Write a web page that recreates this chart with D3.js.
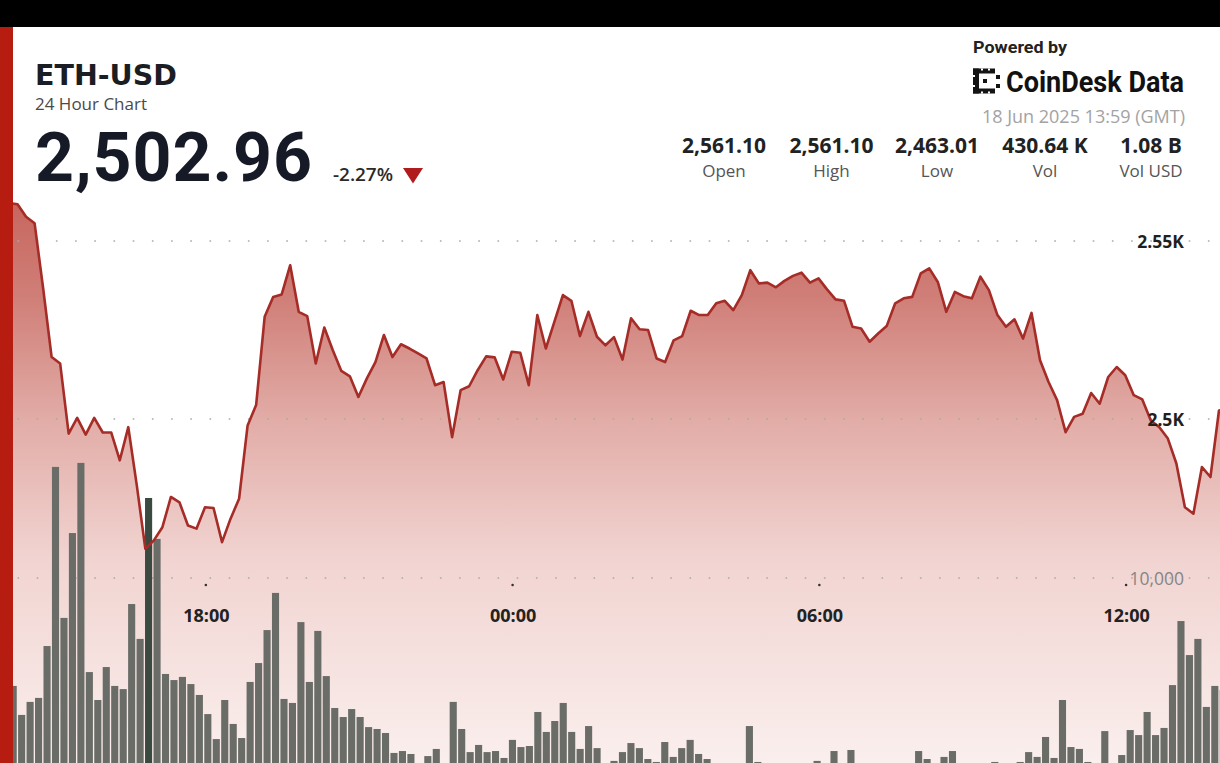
<!DOCTYPE html>
<html><head><meta charset="utf-8">
<script src="https://cdn.jsdelivr.net/npm/d3@7"></script>
<style>
html,body{margin:0;padding:0;background:#fff;}
svg{display:block;}
</style></head>
<body><svg id="c" width="1220" height="763"></svg>
<script>
// ---------- data ----------
const symbol = "ETH-USD";
const subtitle = "24 Hour Chart";
const lastPrice = "2,502.96";
const changePct = "-2.27%";
const poweredBy = "Powered by";
const brand = "CoinDesk Data";
const stamp = "18 Jun 2025 13:59 (GMT)";
const statValues = ["2,561.10", "2,561.10", "2,463.01", "430.64 K", "1.08 B"];
const statLabels = ["Open", "High", "Low", "Vol", "Vol USD"];
const priceTicks = [2550, 2500];
const priceTickLabels = ["2.55K", "2.5K"];
const volTicks = [10000];
const volTickLabels = ["10,000"];
const timeTicks = ["2025-06-17T18:00:00Z", "2025-06-18T00:00:00Z", "2025-06-18T06:00:00Z", "2025-06-18T12:00:00Z"];
const timeTickLabels = ["18:00", "00:00", "06:00", "12:00"];
const startTime = "2025-06-17T13:59:00Z";
const endTime = "2025-06-18T13:59:00Z";
const stepMinutes = 10;

const prices = [
 2561.1, 2560.7, 2560.3, 2556.8, 2555.0, 2536.8, 2517.4, 2515.6, 2495.9, 2500.3,
 2495.6, 2500.3, 2496.2, 2496.2, 2488.4, 2497.7, 2481.3, 2463.5, 2465.9, 2469.6,
 2478.1, 2476.6, 2470.1, 2469.2, 2475.2, 2475.0, 2465.4, 2472.0, 2477.6, 2498.2,
 2503.9, 2528.7, 2534.3, 2535.0, 2543.2, 2530.1, 2528.9, 2515.6, 2525.7, 2519.3,
 2513.5, 2512.0, 2506.2, 2511.4, 2516.0, 2523.6, 2517.4, 2521.0, 2519.8, 2518.4,
 2517.0, 2509.5, 2510.4, 2494.9, 2508.1, 2509.2, 2513.7, 2517.6, 2517.3, 2511.1,
 2518.9, 2518.6, 2509.5, 2529.2, 2519.8, 2527.3, 2534.8, 2533.2, 2523.3, 2530.1,
 2523.1, 2520.7, 2523.0, 2516.7, 2528.3, 2525.2, 2525.0, 2517.0, 2516.0, 2522.1,
 2523.3, 2530.4, 2529.2, 2529.2, 2532.5, 2533.2, 2530.6, 2534.8, 2541.8, 2538.1,
 2538.3, 2537.0, 2538.8, 2540.2, 2541.1, 2538.3, 2539.5, 2536.4, 2533.6, 2533.2,
 2525.9, 2525.4, 2521.7, 2524.0, 2526.1, 2532.5, 2533.9, 2534.3, 2540.9, 2542.3,
 2538.5, 2530.1, 2535.7, 2534.5, 2533.9, 2540.0, 2536.2, 2529.2, 2525.9, 2528.0,
 2522.6, 2529.8, 2516.5, 2510.4, 2505.3, 2496.3, 2500.6, 2501.5, 2507.3, 2504.3,
 2511.8, 2514.6, 2512.3, 2506.7, 2505.5, 2499.6, 2497.7, 2494.5, 2487.5, 2475.2,
 2473.4, 2486.5, 2483.7, 2502.4, 2502.96
];

const volumes = [
 4670, 4860, 3480, 4100, 4290, 6760, 15290, 8100, 12140, 15480,
 5520, 4190, 5760, 4860, 4710, 8760, 7100, 13810, 11860, 5430,
 5140, 5290, 4950, 4430, 3520, 2330, 4190, 3050, 2380, 5050,
 5950, 7520, 9290, 4240, 4050, 7900, 5050, 7480, 5330, 3810,
 3380, 3760, 3380, 2900, 2810, 2620, 1670, 1760, 1620, 1050,
 1520, 1860, 1000, 4100, 2810, 1710, 2050, 1710, 1760, 1430,
 2290, 1950, 2000, 3620, 2670, 3190, 4050, 2670, 1860, 2950,
 1900, 950, 1290, 1710, 2140, 1900, 1380, 1240, 2190, 1480,
 1900, 2290, 1620, 1380, 1050, 860, 950, 1000, 2950, 1240,
 950, 810, 860, 760, 900, 1000, 1290, 950, 1760, 1000,
 1810, 860, 760, 900, 810, 950, 860, 1000, 1760, 1380,
 1050, 1480, 1760, 950, 860, 1000, 900, 1240, 950, 1050,
 1240, 1710, 1480, 2430, 1430, 4190, 1950, 1860, 1240, 1050,
 2710, 1100, 1570, 2760, 2520, 3620, 2520, 2860, 4900, 7950,
 6330, 7100, 3860, 4860, 4670
];
const highlightBar = 17;

// ---------- setup ----------
const W = 1220, H = 763;
const svg = d3.select("#c");
const t0 = new Date(startTime);
const times = prices.map((_, j) => new Date(t0.getTime() + j * stepMinutes * 60000));

const x = d3.scaleTime().domain([new Date(startTime), new Date(endTime)]).range([0.5, 1227.5]);
const xb = d3.scaleBand().domain(times.map(d => +d)).range([0.5, 1227.5]).paddingInner(0.16).paddingOuter(0.08);
const y = d3.scaleLinear().domain([2500, 2550]).range([419, 241]);
const yv = d3.scaleLinear().domain([0, 10000]).range([788, 578]);

const defs = svg.append("defs");
const grad = defs.append("linearGradient").attr("id", "ag")
  .attr("gradientUnits", "userSpaceOnUse").attr("x1", 0).attr("x2", 0).attr("y1", 200).attr("y2", 763);
[[0, "rgb(198,102,94)"], [0.18, "rgb(208,128,121)"], [0.39, "rgb(226,172,167)"], [0.64, "rgb(241,212,209)"], [1, "rgb(250,239,237)"]]
  .forEach(([o, c]) => grad.append("stop").attr("offset", o).attr("stop-color", c));
defs.append("clipPath").attr("id", "pc").append("rect").attr("x", 0).attr("y", 27).attr("width", W).attr("height", H - 27);

svg.append("rect").attr("width", W).attr("height", H).attr("fill", "#fff");

const plot = svg.append("g").attr("clip-path", "url(#pc)");

// area
const area = d3.area().x((d, j) => x(times[j])).y0(H + 5).y1(d => y(d));
plot.append("path").datum(prices).attr("d", area).attr("fill", "url(#ag)");

// grid
const gridYs = priceTicks.map(v => y(v)).concat(volTicks.map(v => yv(v)));
plot.selectAll("line.grid").data(gridYs).join("line").attr("class", "grid")
  .attr("x1", 17.5).attr("x2", W).attr("y1", d => d).attr("y2", d => d)
  .attr("stroke", "#a9a9a9").attr("stroke-width", 1.6).attr("stroke-dasharray", "1.6 17.6");

// bars
plot.selectAll("rect.bar").data(volumes).join("rect").attr("class", "bar")
  .attr("x", (d, i) => xb(+times[i]))
  .attr("width", xb.bandwidth())
  .attr("y", d => yv(d))
  .attr("height", d => yv(0) - yv(d))
  .attr("fill", (d, i) => i === highlightBar ? "#3a4a41" : "#6a6c67");

// line
const line = d3.line().x((d, j) => x(times[j])).y(d => y(d));
plot.append("path").datum(prices).attr("d", line).attr("fill", "none")
  .attr("stroke", "#a52c27").attr("stroke-width", 2.6).attr("stroke-linejoin", "round");

// time axis
const tdates = timeTicks.map(d => new Date(d));
const ax = svg.append("g").attr("transform", "translate(0,622)")
  .call(d3.axisBottom(x).tickValues(tdates).tickFormat((d, i) => timeTickLabels[i]).tickSize(0).tickPadding(0));
ax.select(".domain").remove();
ax.selectAll("text").attr("y", 0).attr("dy", 0)
  .attr("font-family", "'Open Sans', sans-serif").attr("font-weight", 700).attr("font-size", 18).attr("fill", "#222");
svg.selectAll("circle.tk").data(tdates).join("circle").attr("class", "tk")
  .attr("cx", d => x(d)).attr("cy", 585).attr("r", 1.3).attr("fill", "#333");

// y labels
svg.selectAll("text.pl").data(priceTicks).join("text").attr("class", "pl")
  .attr("x", 1184).attr("y", d => y(d) + 6.5).attr("text-anchor", "end")
  .attr("font-family", "'Open Sans', sans-serif").attr("font-weight", 700).attr("font-size", 17.5)
  .attr("fill", "#1f1f1f").text((d, i) => priceTickLabels[i]);
svg.selectAll("text.vl").data(volTicks).join("text").attr("class", "vl")
  .attr("x", 1184).attr("y", d => yv(d) + 6.5).attr("text-anchor", "end")
  .attr("font-family", "'Open Sans', sans-serif").attr("font-weight", 400).attr("font-size", 17.5)
  .attr("fill", "#858585").text((d, i) => volTickLabels[i]);

// frame pieces
svg.append("rect").attr("x", 0).attr("y", 0).attr("width", W).attr("height", 27).attr("fill", "#000");
svg.append("rect").attr("x", 0).attr("y", 27).attr("width", 13).attr("height", H - 27).attr("fill", "#b71c10");

// header left
svg.append("text").attr("x", 35).attr("y", 85).attr("font-family", "'DejaVu Sans', sans-serif")
  .attr("font-weight", 700).attr("font-size", 28.5).attr("fill", "#1b1d24").text(symbol);
svg.append("text").attr("x", 35).attr("y", 110).attr("font-family", "'Open Sans', sans-serif")
  .attr("font-size", 17).attr("fill", "#4a4a4a").text(subtitle);
svg.append("text").attr("x", 35).attr("y", 180.5).attr("font-family", "Roboto, sans-serif")
  .attr("font-weight", 700).attr("font-size", 68).attr("textLength", 277).attr("lengthAdjust", "spacing")
  .attr("fill", "#161a26").text(lastPrice);
svg.append("text").attr("x", 333).attr("y", 181).attr("font-family", "'Open Sans', sans-serif")
  .attr("font-weight", 600).attr("font-size", 18).attr("textLength", 60).attr("lengthAdjust", "spacingAndGlyphs")
  .attr("fill", "#2a2a2a").text(changePct);
const tri = d3.path(); tri.moveTo(403, 168); tri.lineTo(423, 168); tri.lineTo(413, 183.5); tri.closePath();
svg.append("path").attr("d", tri.toString()).attr("fill", "#b01c1c");

// header right
svg.append("text").attr("x", 973).attr("y", 53).attr("font-family", "Roboto, sans-serif")
  .attr("font-weight", 700).attr("font-size", 17).attr("textLength", 94).attr("lengthAdjust", "spacingAndGlyphs")
  .attr("fill", "#222").text(poweredBy);
const logo = svg.append("g").attr("fill", "#141414");
[[973, 68.5, 22, 5], [973, 68.5, 6, 25], [973, 88.5, 22, 5], [983, 79, 4, 4], [996, 75, 4, 4], [996, 84, 4, 4]]
  .forEach(r => logo.append("rect").attr("x", r[0]).attr("y", r[1]).attr("width", r[2]).attr("height", r[3]));
const logoCut = svg.append("g").attr("fill", "#fff");
[[981, 68.5, 2, 2], [988, 68.5, 2, 2], [973, 75, 2, 2], [973, 85, 2, 2], [981, 91.5, 2, 2], [988, 91.5, 2, 2]]
  .forEach(r => logoCut.append("rect").attr("x", r[0]).attr("y", r[1]).attr("width", r[2]).attr("height", r[3]));
svg.append("text").attr("x", 1006).attr("y", 91.7).attr("font-family", "Roboto, sans-serif")
  .attr("font-weight", 700).attr("font-size", 29).attr("textLength", 178).attr("lengthAdjust", "spacingAndGlyphs")
  .attr("fill", "#111").text(brand);
svg.append("text").attr("x", 1185).attr("y", 122.5).attr("text-anchor", "end").attr("font-family", "'Open Sans', sans-serif")
  .attr("font-size", 18).attr("fill", "#a3a3a3").text(stamp);

const statX = [724, 831.5, 937, 1045, 1151];
svg.selectAll("text.sv").data(statValues).join("text").attr("class", "sv")
  .attr("x", (d, i) => statX[i]).attr("y", 152.7).attr("text-anchor", "middle")
  .attr("font-family", "'Open Sans', sans-serif").attr("font-weight", 700).attr("font-size", 21)
  .attr("fill", "#222").text(d => d);
svg.selectAll("text.sl").data(statLabels).join("text").attr("class", "sl")
  .attr("x", (d, i) => statX[i]).attr("y", 177).attr("text-anchor", "middle")
  .attr("font-family", "'Open Sans', sans-serif").attr("font-weight", 400).attr("font-size", 17)
  .attr("fill", "#555").text(d => d);
</script>
</body></html>
